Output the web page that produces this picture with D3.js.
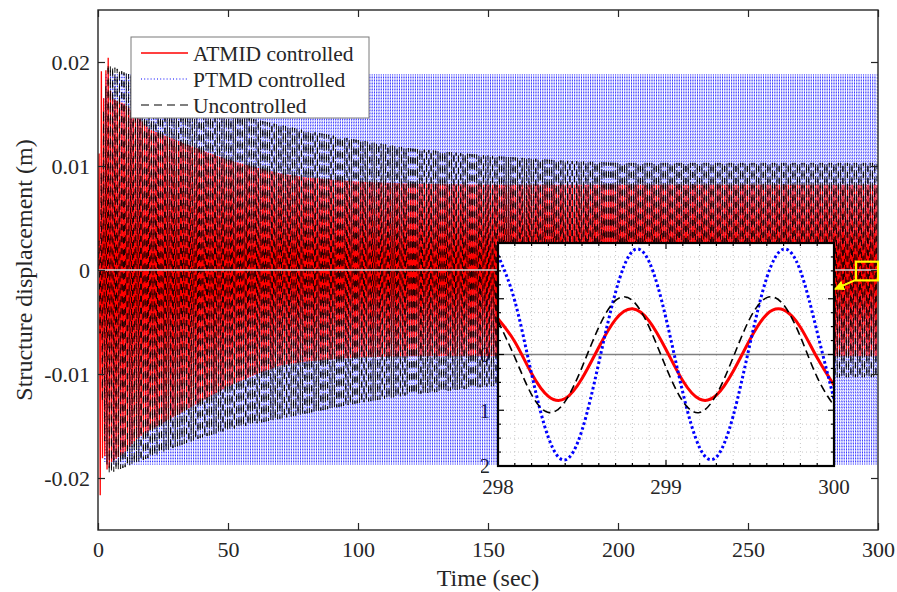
<!DOCTYPE html>
<html>
<head>
<meta charset="utf-8">
<script src="https://cdn.jsdelivr.net/npm/d3@7"></script>
<style>
body { margin: 0; background: #fff; }
svg text { font-family: "Liberation Serif", "Times New Roman", Times, serif; fill: #262626; }
</style>
</head>
<body>
<svg width="897" height="592"></svg>
<script>
// peak envelopes of the dense response (time s, displacement m)
var atmidT  = [0, 0.8, 2.0, 3.7, 5, 10, 15, 20, 30, 40, 50, 60, 70, 80, 100, 120, 150, 300];
var atmidUp = [0, 0.0213, 0.016, 0.0212, 0.0165, 0.0160, 0.0148, 0.0135, 0.0125, 0.0115, 0.0106, 0.0099, 0.0093, 0.0089, 0.0085, 0.0083, 0.0082, 0.0082];
var atmidLo = [0, -0.0219, -0.017, -0.0195, -0.0185, -0.0176, -0.0162, -0.0154, -0.0140, -0.0126, -0.0112, -0.0101, -0.0092, -0.0088, -0.0084, -0.0083, -0.0083, -0.0083];

var ptmdT  = [0, 1.2, 2.7, 300];
var ptmdUp = [0, 0.0120, 0.0188, 0.0188];
var ptmdLo = [0, -0.0120, -0.0187, -0.0187];

var uncT  = [0, 2, 3.8, 10, 20, 30, 40, 50, 60, 80, 100, 120, 150, 180, 200, 300];
var uncUp = [0, 0.0150, 0.0198, 0.0190, 0.0180, 0.0170, 0.0161, 0.0152, 0.0145, 0.0134, 0.0125, 0.0117, 0.0110, 0.0105, 0.0103, 0.0103];
var uncLo = [0, -0.0150, -0.0196, -0.0190, -0.0180, -0.0170, -0.0161, -0.0154, -0.0148, -0.0138, -0.0128, -0.0120, -0.0112, -0.0106, -0.0104, -0.0103];

var period = 0.875;          // dominant period seen in the zoomed window
var phase = { atmid: 0.202, ptmd: 0.236, unc: 0.156 };

// zoomed window 298-300 s
var insetTime  = [298.0, 298.1, 298.2, 298.3, 298.4, 298.5, 298.6, 298.7, 298.8, 298.9, 299.0,
                  299.1, 299.2, 299.3, 299.4, 299.5, 299.6, 299.7, 299.8, 299.9, 300.0];
var insetAtmid = [0.0064, 0.0023, -0.0034, -0.0075, -0.0079, -0.0043, 0.0013, 0.0063, 0.0082, 0.0060, 0.0009,
                  -0.0047, -0.0080, -0.0073, -0.0030, 0.0027, 0.0072, 0.0080, 0.0049, -0.0006, -0.0055];
var insetPtmd  = [0.0178, 0.0096, -0.0035, -0.0149, -0.0189, -0.0136, -0.0015, 0.0112, 0.0185, 0.0166, 0.0065,
                  -0.0068, -0.0167, -0.0184, -0.0110, 0.0019, 0.0138, 0.0189, 0.0150, 0.0040, -0.0080];
var insetUnc   = [0.0060, -0.0005, -0.0072, -0.0104, -0.0084, -0.0023, 0.0049, 0.0097, 0.0097, 0.0049, -0.0023,
                  -0.0084, -0.0104, -0.0072, -0.0005, 0.0065, 0.0102, 0.0089, 0.0032, -0.0041, -0.0092];

var xTicks = [0, 50, 100, 150, 200, 250, 300];
var yTicks = [-0.02, -0.01, 0, 0.01, 0.02];
var insetXTicks = [298, 299, 300];
var insetYTicks = [-0.02, -0.01, 0, 0.01, 0.02];
var zoomBox = { t0: 291.5, t1: 300, v0: -0.001, v1: 0.0008 };

var legendNames = ["ATMID controlled", "PTMD controlled", "Uncontrolled"];

var svg = d3.select("svg");
var ink = "#262626";
var serif = "'Liberation Serif', 'Times New Roman', Times, serif";
var fs = "21px";
var fmt = function(d) { return String(d); };   // plain hyphen minus like the figure

var m = { left: 98, right: 878, top: 10, bottom: 530 };
var x = d3.scaleLinear().domain([0, 300]).range([m.left, m.right]);
var y = d3.scaleLinear().domain([-0.025, 0.025]).range([m.bottom, m.top]);

var inset = { left: 498, right: 834, top: 243, bottom: 466 };
var ix = d3.scaleLinear().domain([298, 300]).range([inset.left, inset.right]);
var iy = d3.scaleLinear().domain([-0.02, 0.02]).range([inset.bottom, inset.top]);

// peaks alternate between upper and lower envelope every half period
function buildSeries(tArr, up, lo, shift) {
  var upS = d3.scaleLinear().domain(tArr).range(up).clamp(true);
  var loS = d3.scaleLinear().domain(tArr).range(lo).clamp(true);
  var h = period / 2;
  var pts = [{ t: 0, v: 0 }];
  for (var k = 0; ; k++) {
    var t = shift + h * (k + 0.5);
    if (t > 300) break;
    pts.push({ t: t, v: k % 2 == 0 ? upS(t) : loS(t) });
  }
  return pts;
}

var series = [
  { name: legendNames[0], data: buildSeries(atmidT, atmidUp, atmidLo, phase.atmid), color: "#ff0000", w: 1.3, dash: null, z: 1 },
  { name: legendNames[1], data: buildSeries(ptmdT, ptmdUp, ptmdLo, phase.ptmd), color: "#0000ff", w: 1, dash: "1,2", z: 0 },
  { name: legendNames[2], data: buildSeries(uncT, uncUp, uncLo, phase.unc), color: "#000000", w: 0.9, dash: "6,6", z: 2 }
];

var defs = svg.append("defs");
defs.append("clipPath").attr("id", "clipMain")
  .append("rect").attr("x", m.left).attr("y", m.top)
  .attr("width", m.right - m.left).attr("height", m.bottom - m.top);
// the inset's y labels are mostly buried under the traces; only their last digit shows
defs.append("clipPath").attr("id", "clipInsetLabels")
  .append("rect").attr("x", inset.left - 17).attr("y", inset.top - 20)
  .attr("width", 17).attr("height", inset.bottom - inset.top + 40);

svg.append("g").attr("clip-path", "url(#clipInsetLabels)")
  .selectAll("text").data(insetYTicks).enter().append("text")
  .attr("x", inset.left - 8).attr("y", function(d) { return iy(d); })
  .attr("dy", "0.35em").attr("text-anchor", "end").style("font-size", fs)
  .text(fmt);

var line = d3.line().x(function(d) { return x(d.t); }).y(function(d) { return y(d.v); });

svg.append("g").attr("clip-path", "url(#clipMain)")
  .selectAll("path").data(series.slice().sort(function(a, b) { return a.z - b.z; })).enter().append("path")
  .attr("d", function(d) { return line(d.data); })
  .attr("fill", "none")
  .attr("stroke", function(d) { return d.color; })
  .attr("stroke-width", function(d) { return d.w; })
  .attr("stroke-dasharray", function(d) { return d.dash; });

// zero line
svg.append("line")
  .attr("x1", m.left).attr("x2", m.right).attr("y1", y(0)).attr("y2", y(0))
  .attr("stroke", "#d4d4d4").attr("stroke-width", 1.6);

// main axes
var axB = svg.append("g").attr("transform", "translate(0," + m.bottom + ")")
  .call(d3.axisBottom(x).tickValues(xTicks).tickSizeInner(-7).tickSizeOuter(0).tickPadding(11));
var axL = svg.append("g").attr("transform", "translate(" + m.left + ",0)")
  .call(d3.axisLeft(y).tickValues(yTicks).tickSizeInner(-7).tickSizeOuter(0).tickPadding(8).tickFormat(fmt));
var axT = svg.append("g").attr("transform", "translate(0," + m.top + ")")
  .call(d3.axisTop(x).tickValues(xTicks).tickSizeInner(-7).tickSizeOuter(0).tickFormat(""));
var axR = svg.append("g").attr("transform", "translate(" + m.right + ",0)")
  .call(d3.axisRight(y).tickValues(yTicks).tickSizeInner(-7).tickSizeOuter(0).tickFormat(""));

[axB, axL, axT, axR].forEach(function(a) {
  a.attr("font-family", null).attr("font-size", null);
  a.select(".domain").remove();
  a.selectAll("line").attr("stroke", ink).attr("stroke-width", 1.2);
  a.selectAll("text").style("font-size", "22px").style("font-family", serif).attr("fill", ink);
});

svg.append("rect")
  .attr("x", m.left).attr("y", m.top).attr("width", m.right - m.left).attr("height", m.bottom - m.top)
  .attr("fill", "none").attr("stroke", ink).attr("stroke-width", 1.4);

svg.append("text").attr("x", (m.left + m.right) / 2).attr("y", 586)
  .attr("text-anchor", "middle").style("font-size", "24px").text("Time (sec)");
svg.append("text").attr("transform", "translate(32," + y(0) + ") rotate(-90)")
  .attr("text-anchor", "middle").style("font-size", "24px").text("Structure displacement (m)");

// legend
var lg = svg.append("g");
lg.append("rect").attr("x", 131).attr("y", 37).attr("width", 238).attr("height", 81)
  .attr("fill", "#fff").attr("stroke", "#7a7a7a").attr("stroke-width", 1);
var lgItems = lg.selectAll("g.item").data(series).enter().append("g").attr("class", "item")
  .attr("transform", function(d, i) { return "translate(0," + (53 + i * 26) + ")"; });
lgItems.append("line").attr("x1", 141).attr("x2", 188)
  .attr("stroke", function(d) { return d.color; })
  .attr("stroke-width", function(d, i) { return i == 0 ? 1.6 : 1.2; })
  .attr("stroke-dasharray", function(d, i) { return i == 1 ? "1,2.2" : i == 2 ? "8,5" : null; });
lgItems.append("text").attr("x", 193).attr("dy", "0.35em").style("font-size", "21.5px")
  .text(function(d) { return d.name; });

// inset
var ig = svg.append("g");
ig.append("rect").attr("x", inset.left).attr("y", inset.top)
  .attr("width", inset.right - inset.left).attr("height", inset.bottom - inset.top).attr("fill", "#fff");

var minorX = d3.range(0, 21).map(function(i) { return 298 + i * 0.1; });
var minorY = d3.range(0, 17).map(function(i) { return -0.02 + i * 0.0025; });

ig.append("g").selectAll("line").data(minorX.slice(1, -1)).enter().append("line")
  .attr("x1", function(d) { return ix(d); }).attr("x2", function(d) { return ix(d); })
  .attr("y1", inset.top).attr("y2", inset.bottom)
  .attr("stroke", "#c8c8c8").attr("stroke-width", 1).attr("stroke-dasharray", "1,3");
ig.append("g").selectAll("line").data(minorY.slice(1, -1)).enter().append("line")
  .attr("x1", inset.left).attr("x2", inset.right)
  .attr("y1", function(d) { return iy(d); }).attr("y2", function(d) { return iy(d); })
  .attr("stroke", "#c8c8c8").attr("stroke-width", 1).attr("stroke-dasharray", "1,3");

ig.append("line").attr("x1", inset.left).attr("x2", inset.right)
  .attr("y1", iy(0)).attr("y2", iy(0)).attr("stroke", "#808080").attr("stroke-width", 1.6);

var insetSeries = [
  { data: insetAtmid, color: "#ff0000", w: 3, dash: null },
  { data: insetPtmd, color: "#0000ff", w: 3, dash: "2.6,2.6" },
  { data: insetUnc, color: "#000000", w: 1.6, dash: "8,4.5" }
];
var iline = d3.line().curve(d3.curveNatural)
  .x(function(d, i) { return ix(insetTime[i]); }).y(function(d) { return iy(d); });

defs.append("clipPath").attr("id", "clipInset")
  .append("rect").attr("x", inset.left).attr("y", inset.top)
  .attr("width", inset.right - inset.left).attr("height", inset.bottom - inset.top);
ig.append("g").attr("clip-path", "url(#clipInset)")
  .selectAll("path").data(insetSeries).enter().append("path")
  .attr("d", function(d) { return iline(d.data); })
  .attr("fill", "none")
  .attr("stroke", function(d) { return d.color; })
  .attr("stroke-width", function(d) { return d.w; })
  .attr("stroke-dasharray", function(d) { return d.dash; });

// inset ticks: minor inside all four edges, major a bit longer
minorX.forEach(function(t) {
  var len = insetXTicks.indexOf(Math.round(t * 10) / 10) >= 0 ? 6 : 3;
  ig.append("line").attr("x1", ix(t)).attr("x2", ix(t)).attr("y1", inset.bottom).attr("y2", inset.bottom - len)
    .attr("stroke", "#000").attr("stroke-width", 1.2);
  ig.append("line").attr("x1", ix(t)).attr("x2", ix(t)).attr("y1", inset.top).attr("y2", inset.top + len)
    .attr("stroke", "#000").attr("stroke-width", 1.2);
});
minorY.forEach(function(v) {
  var len = Math.abs(v * 100 - Math.round(v * 100)) < 1e-6 ? 6 : 3;
  ig.append("line").attr("x1", inset.left).attr("x2", inset.left + len).attr("y1", iy(v)).attr("y2", iy(v))
    .attr("stroke", "#000").attr("stroke-width", 1.2);
  ig.append("line").attr("x1", inset.right).attr("x2", inset.right - len).attr("y1", iy(v)).attr("y2", iy(v))
    .attr("stroke", "#000").attr("stroke-width", 1.2);
});

ig.append("rect").attr("x", inset.left).attr("y", inset.top)
  .attr("width", inset.right - inset.left).attr("height", inset.bottom - inset.top)
  .attr("fill", "none").attr("stroke", "#000").attr("stroke-width", 2.2);

ig.append("g").selectAll("text").data(insetXTicks).enter().append("text")
  .attr("x", function(d) { return ix(d); }).attr("y", inset.bottom + 28)
  .attr("text-anchor", "middle").style("font-size", fs).text(function(d) { return d; });

// zoom marker and arrow
svg.append("rect")
  .attr("x", x(zoomBox.t0)).attr("y", y(zoomBox.v1))
  .attr("width", x(zoomBox.t1) - x(zoomBox.t0)).attr("height", y(zoomBox.v0) - y(zoomBox.v1))
  .attr("fill", "none").attr("stroke", "#ffff00").attr("stroke-width", 2.2);

defs.append("marker").attr("id", "arrow")
  .attr("viewBox", "0 0 10 10").attr("refX", 9).attr("refY", 5)
  .attr("markerWidth", 5).attr("markerHeight", 5).attr("orient", "auto")
  .append("path").attr("d", "M0,0L10,5L0,10z").attr("fill", "#ffff00");
svg.append("line")
  .attr("x1", x(zoomBox.t0) + 1).attr("y1", y(zoomBox.v0) - 1)
  .attr("x2", inset.right + 1).attr("y2", 289)
  .attr("stroke", "#ffff00").attr("stroke-width", 2).attr("marker-end", "url(#arrow)");
</script>
</body>
</html>
